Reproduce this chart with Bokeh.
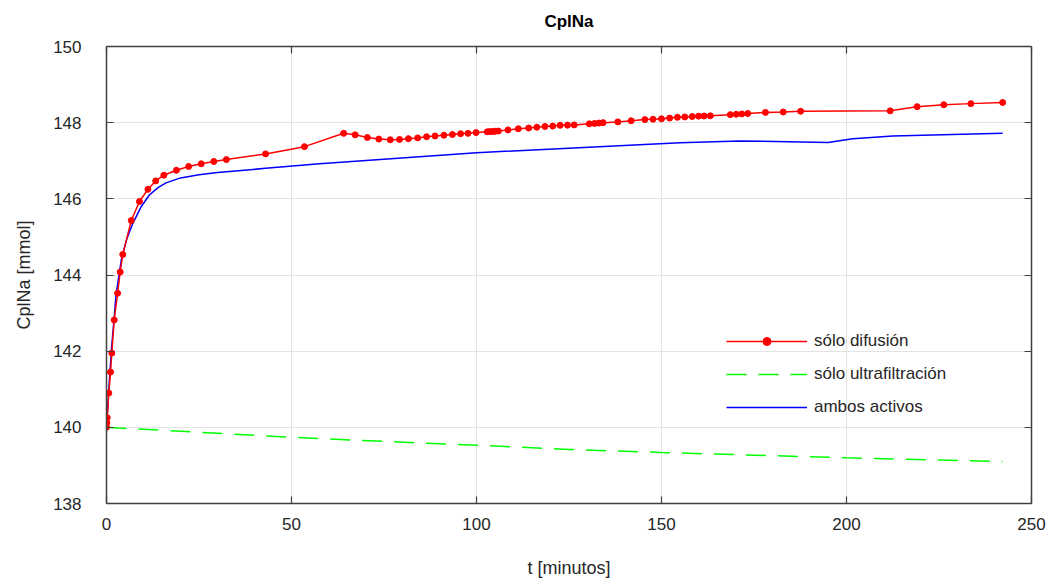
from bokeh.plotting import figure
from bokeh.models import LinearAxis, Range1d, Legend, LegendItem, FixedTicker
from bokeh.embed import file_html
from bokeh.resources import INLINE

# ---- data ----
t_dif = [0.0, 0.1, 0.2, 0.62, 1.08, 1.43, 2.08, 3.0, 3.7, 4.4, 6.7, 8.9, 11.2, 13.3, 15.5,
         18.9, 22.2, 25.6, 29.0, 32.4, 43.0, 53.5, 64.1, 67.2, 70.5, 73.6, 76.7, 79.2, 81.6,
         84.1, 86.5, 88.8, 91.2, 93.5, 95.7, 97.7, 99.9, 102.9, 103.6, 104.4, 105.1, 105.9,
         108.5, 111.3, 114.1, 116.3, 118.5, 120.6, 122.6, 124.6, 126.4, 130.5, 131.9, 133.1,
         134.2, 138.2, 141.8, 145.5, 147.7, 150.0, 152.2, 154.3, 156.3, 158.3, 160.0, 161.5,
         163.2, 168.6, 170.2, 171.7, 173.3, 178.1, 182.9, 187.6, 211.8, 219.1, 226.3, 233.6,
         242.2]
c_dif = [140.0, 140.12, 140.25, 140.9, 141.45, 141.95, 142.82, 143.52, 144.08, 144.54, 145.43,
         145.93, 146.25, 146.47, 146.62, 146.75, 146.85, 146.92, 146.98, 147.03, 147.18, 147.37,
         147.72, 147.68, 147.61, 147.57, 147.55, 147.56, 147.58, 147.60, 147.63, 147.65, 147.67,
         147.69, 147.71, 147.72, 147.74, 147.76, 147.765, 147.77, 147.775, 147.78, 147.81,
         147.84, 147.86, 147.88, 147.90, 147.91, 147.93, 147.935, 147.94, 147.97, 147.98,
         147.99, 148.0, 148.02, 148.05, 148.08, 148.09, 148.10, 148.12, 148.14, 148.15, 148.16,
         148.17, 148.175, 148.18, 148.21, 148.22, 148.23, 148.24, 148.27, 148.28, 148.30,
         148.31, 148.42, 148.47, 148.50, 148.53]

t_uf = [0, 25, 50, 75, 100, 125, 150, 175, 200, 225, 242.2]
c_uf = [140.0, 139.87, 139.74, 139.63, 139.53, 139.42, 139.34, 139.27, 139.2, 139.14, 139.1]

t_amb = [0, 0.5, 1.3, 2.6, 4.0, 5.5, 7.1, 9.4, 11.6, 14.0, 16.1, 20.0, 25.0, 30.0, 43.0,
         57.6, 100.0, 155.0, 171.0, 195.0, 201.7, 212.5, 242.2]
c_amb = [140.0, 140.8, 142.0, 143.5, 144.4, 144.95, 145.35, 145.8, 146.1, 146.3, 146.42,
         146.55, 146.63, 146.69, 146.8, 146.92, 147.21, 147.47, 147.52, 147.48, 147.58,
         147.65, 147.72]

x_ticks = [0, 50, 100, 150, 200, 250]
y_ticks = [138, 140, 142, 144, 146, 148, 150]

FONT = "Liberation Sans"
TXT = "#262626"
AX = "#404040"

p = figure(width=1046, height=583, output_backend="svg", toolbar_location=None,
           x_range=Range1d(x_ticks[0], x_ticks[-1]), y_range=Range1d(y_ticks[0], y_ticks[-1]),
           min_border_left=106, min_border_right=15, min_border_top=46, min_border_bottom=80,
           title="CplNa")
p.title.align = "center"
p.title.text_font = FONT
p.title.text_font_size = "17px"
p.title.text_font_style = "bold"
p.title.text_color = "#000000"
p.title.standoff = 10
p.outline_line_color = None

for ax in p.axis:
    ax.major_tick_in = 7
    ax.major_tick_out = 0
    ax.minor_tick_in = 0
    ax.minor_tick_out = 0
    ax.axis_line_color = AX
    ax.axis_line_width = 1.5
    ax.major_tick_line_color = AX
    ax.major_tick_line_width = 1.2
    ax.major_label_text_font = FONT
    ax.major_label_text_font_size = "17px"
    ax.major_label_text_color = TXT
    ax.axis_label_text_font = FONT
    ax.axis_label_text_font_size = "18px"
    ax.axis_label_text_font_style = "normal"
    ax.axis_label_text_color = TXT

p.xaxis.ticker = FixedTicker(ticks=x_ticks)
p.yaxis.ticker = FixedTicker(ticks=y_ticks)
p.xaxis.axis_label = "t [minutos]"
p.yaxis.axis_label = "CplNa [mmol]"
p.xaxis.major_label_standoff = 14
p.yaxis.major_label_standoff = 25
p.xaxis.axis_label_standoff = 25
p.yaxis.axis_label_standoff = 16

for loc, tk in (("above", x_ticks), ("right", y_ticks)):
    a = LinearAxis(ticker=FixedTicker(ticks=tk))
    a.major_tick_in = 7
    a.major_tick_out = 0
    a.minor_tick_in = 0
    a.minor_tick_out = 0
    a.axis_line_color = AX
    a.axis_line_width = 1.5
    a.major_tick_line_color = AX
    a.major_tick_line_width = 1.2
    a.major_label_text_font_size = "1px"
    a.major_label_text_color = None
    a.major_label_standoff = 0
    p.add_layout(a, loc)

# invisible spacer axis that lifts the title away from the frame
spacer = LinearAxis(ticker=FixedTicker(ticks=x_ticks))
spacer.axis_line_color = None
spacer.major_tick_line_color = None
spacer.minor_tick_line_color = None
spacer.major_tick_in = 0
spacer.major_tick_out = 11
spacer.minor_tick_in = 0
spacer.minor_tick_out = 0
spacer.major_label_text_font_size = "1px"
spacer.major_label_text_color = None
spacer.major_label_standoff = 0
p.add_layout(spacer, "above")

p.xgrid.grid_line_color = "#e3e3e3"
p.ygrid.grid_line_color = "#e3e3e3"
p.xgrid.ticker = FixedTicker(ticks=x_ticks)
p.ygrid.ticker = FixedTicker(ticks=y_ticks)

l_uf = p.line(t_uf, c_uf, line_color="#00ff00", line_width=1.5, line_dash="20 12")
l_amb = p.line(t_amb, c_amb, line_color="#0000ff", line_width=1.5)
l_dif = p.line(t_dif, c_dif, line_color="#ff0000", line_width=1.5)
s_dif = p.scatter(t_dif, c_dif, size=6, fill_color="#ff0000", line_color="#ff0000")

legend = Legend(items=[
    LegendItem(label="sólo difusión", renderers=[l_dif, s_dif]),
    LegendItem(label="sólo ultrafiltración", renderers=[l_uf]),
    LegendItem(label="ambos activos", renderers=[l_amb]),
], location=(620, 86))
legend.background_fill_alpha = 0
legend.border_line_color = None
legend.glyph_width = 81
legend.glyph_height = 20
legend.label_height = 20
legend.spacing = 13
legend.padding = 0
legend.margin = 0
legend.label_standoff = 7
legend.label_text_font = FONT
legend.label_text_font_size = "17px"
legend.label_text_color = TXT
p.add_layout(legend, "center")

open("out.html", "w").write(file_html(p, INLINE))
